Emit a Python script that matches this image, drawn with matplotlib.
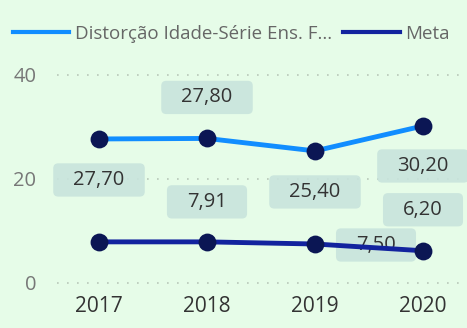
import matplotlib.pyplot as plt
from matplotlib.lines import Line2D
from matplotlib.patches import BoxStyle

plt.rcParams['font.family'] = ['Open Sans', 'DejaVu Sans']

years = [2017, 2018, 2019, 2020]
distorcao = [27.70, 27.80, 25.40, 30.20]
meta = [7.91, 7.91, 7.50, 6.20]

# data label text and offsets (in pixels) from each point; None = no label shown
distorcao_labels = ['27,70', '27,80', '25,40', '30,20']
distorcao_offsets = [(0, -41), (0, 41), (0, -41), (0, -40)]
meta_labels = [None, '7,91', '7,50', '6,20']
meta_offsets = [None, (0, 40), (61, -1), (0, 41)]

bg = '#e6fce8'
box_color = '#c8e4dc'
light_blue = '#118dff'
dark_blue = '#12239e'
marker_color = '#0b1654'


def label_box(x0, y0, width, height, mutation_size):
    # wide, flat rounded box like the data-label callouts
    padx = 1.0 * mutation_size
    pady = 0.33 * mutation_size
    rnd = BoxStyle.Round(pad=0, rounding_size=0.25)
    return rnd(x0 - padx, y0 - pady, width + 2 * padx, height + 2 * pady, mutation_size)


W, H = 467, 328
fig = plt.figure(figsize=(W / 100, H / 100), dpi=100)
fig.patch.set_facecolor(bg)

# axes placed in pixel terms: 0 at y=283px, 40 at y=75px
ax_left, ax_right, ax_top, ax_bottom = 57, 467, 65, 292
ax = fig.add_axes([ax_left / W, 1 - ax_bottom / H, (ax_right - ax_left) / W, (ax_bottom - ax_top) / H])
ax.set_facecolor(bg)

px_per_unit = 208 / 40
ax.set_ylim(-(ax_bottom - 283) / px_per_unit, 40 + (75 - ax_top) / px_per_unit)
px_per_year = 108
ax.set_xlim(2017 - (99 - ax_left) / px_per_year, 2020 + (ax_right - 423) / px_per_year)

ax.plot(years, distorcao, color=light_blue, lw=3.5, zorder=3, solid_capstyle='round')
ax.plot(years, meta, color=dark_blue, lw=3.5, zorder=3, solid_capstyle='round')
ax.scatter(years, distorcao, s=165, color=marker_color, zorder=4, linewidths=0)
ax.scatter(years, meta, s=165, color=marker_color, zorder=4, linewidths=0)

box = dict(boxstyle=label_box, fc=box_color, ec='none', alpha=0.9)
for x, y, lab, off in zip(years, distorcao, distorcao_labels, distorcao_offsets):
    ax.annotate(lab, (x, y), xytext=off, textcoords='offset pixels', ha='center', va='center',
                fontsize=14.5, color='#333333', bbox=box, zorder=2, annotation_clip=False)
for x, y, lab, off in zip(years, meta, meta_labels, meta_offsets):
    if lab is None:
        continue
    ax.annotate(lab, (x, y), xytext=off, textcoords='offset pixels', ha='center', va='center',
                fontsize=14.5, color='#333333', bbox=box, zorder=2, annotation_clip=False)

ax.set_yticks([0, 20, 40])
ax.set_yticklabels(['0', '20', '40'])
ax.set_xticks(years)
ax.set_xticklabels([str(y) for y in years])
ax.tick_params(axis='y', length=0, pad=15, labelsize=14.5, labelcolor='#777777')
ax.tick_params(axis='x', length=0, pad=3, labelsize=15, labelcolor='#333333')
for v in [0, 20, 40]:
    ax.axhline(v, color='#b8c8b8', lw=1.2, ls=(0, (1, 5)), zorder=1)
for s in ax.spines.values():
    s.set_visible(False)

handles = [Line2D([], [], color=light_blue, lw=3), Line2D([], [], color=dark_blue, lw=3)]
fig.legend(handles, ['Distorção Idade-Série Ens. F...', 'Meta'], loc='center left',
           bbox_to_anchor=(13 / W, 1 - 34 / H), ncol=2, frameon=False, fontsize=13.5,
           labelcolor='#666666', handlelength=3.0, handletextpad=0.3, columnspacing=0.6,
           borderpad=0, borderaxespad=0)

fig.savefig('out.png', dpi=100, facecolor=bg)
